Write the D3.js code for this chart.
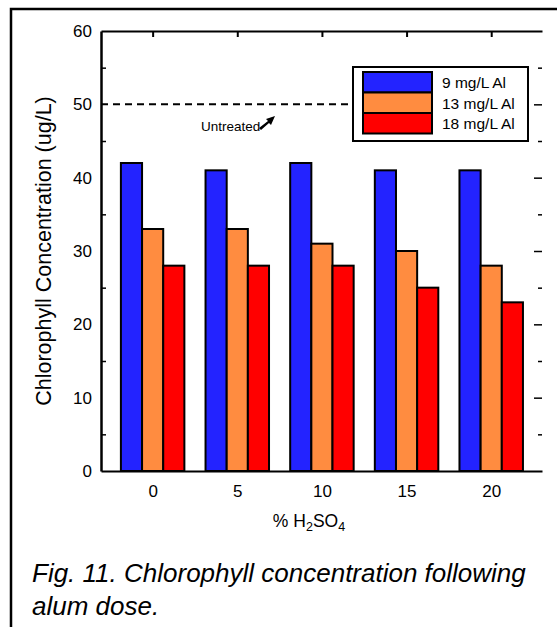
<!DOCTYPE html>
<html>
<head>
<meta charset="utf-8">
<script src="https://cdn.jsdelivr.net/npm/d3@7"></script>
<style>
  body { margin: 0; background: #fff; }
  svg text { font-family: Arial, "Liberation Sans", sans-serif; }
</style>
</head>
<body>
<svg id="chart" width="557" height="627"></svg>
<script>
const doses = [0, 5, 10, 15, 20];
const series = ["9 mg/L Al", "13 mg/L Al", "18 mg/L Al"];
const al9 = [42, 41, 42, 41, 41];
const al13 = [33, 33, 31, 30, 28];
const al18 = [28, 28, 28, 25, 23];
const untreated = 50;
const yTicks = [0, 10, 20, 30, 40, 50, 60];
const colors = ["#2323ff", "#ff8c40", "#ff0000"];

const svg = d3.select("#chart");
const plotL = 101, plotR = 542, plotT = 31, plotB = 471;

const x = d3.scaleLinear().domain([-3.05, 23]).range([plotL, plotR]);
const y = d3.scaleLinear().domain([0, 60]).range([plotB, plotT]);
const barW = x(1.25) - x(0);

// page frame
svg.append("path")
    .attr("d", `M11,627 V9 H557`)
    .attr("fill", "none")
    .attr("stroke", "#000")
    .attr("stroke-width", 2.5);

// bars
const allSeries = [al9, al13, al18];
allSeries.forEach((vals, s) => {
    svg.append("g")
        .selectAll("rect")
        .data(vals)
        .enter()
        .append("rect")
        .attr("x", (d, i) => x(doses[i]) + (s - 1.5) * barW)
        .attr("y", d => y(d))
        .attr("width", barW)
        .attr("height", d => y(0) - y(d))
        .attr("fill", colors[s])
        .attr("stroke", "#000")
        .attr("stroke-width", 2);
});

// untreated reference line
svg.append("line")
    .attr("x1", plotL).attr("x2", 353)
    .attr("y1", y(untreated)).attr("y2", y(untreated))
    .attr("stroke", "#000")
    .attr("stroke-width", 2)
    .attr("stroke-dasharray", "7,5");

svg.append("text")
    .attr("x", 201).attr("y", 131)
    .attr("font-size", 13.5)
    .text("Untreated");

// small arrow
svg.append("path")
    .attr("d", "M259,128 L268,121 L266,119 L275,116 L271,125 L269,123 L261,130 Z")
    .attr("fill", "#000");

// axes
const yAxisL = d3.axisLeft(y).tickValues(d3.range(0, 61, 5)).tickSizeInner(-5).tickSizeOuter(0).tickFormat("");
svg.append("g").attr("transform", `translate(${plotL},0)`).call(yAxisL)
    .call(g => g.select(".domain").attr("stroke-width", 2.5))
    .call(g => g.selectAll(".tick line").attr("stroke-width", 1.5)
        .attr("x2", d => d % 10 === 0 ? 0 : 5));

const yAxisR = d3.axisRight(y).tickValues(d3.range(5, 60, 5)).tickSizeInner(-4).tickSizeOuter(0).tickFormat("");
svg.append("g").attr("transform", `translate(${plotR},0)`).call(yAxisR)
    .call(g => g.select(".domain").remove())
    .call(g => g.selectAll(".tick line").attr("stroke-width", 1.5)
        .attr("x2", d => d % 10 === 0 ? -8 : -4));

svg.selectAll(".ylab")
    .data(yTicks)
    .enter()
    .append("text")
    .attr("class", "ylab")
    .attr("x", 92)
    .attr("y", d => y(d) + 6)
    .attr("text-anchor", "end")
    .attr("font-size", 17)
    .text(d => d);

const xTop = d3.axisBottom(x).tickValues(doses).tickSizeInner(6).tickSizeOuter(0).tickFormat("");
svg.append("g").attr("transform", `translate(0,${plotT})`).call(xTop)
    .call(g => g.select(".domain").attr("stroke-width", 2))
    .call(g => g.selectAll(".tick line").attr("stroke-width", 2));

const xBottom = d3.axisBottom(x).tickValues(doses).tickSize(0).tickPadding(14);
svg.append("g").attr("transform", `translate(0,${plotB})`).call(xBottom)
    .call(g => g.select(".domain").attr("stroke-width", 2))
    .call(g => g.selectAll("text").attr("font-size", 17).attr("fill", "#000")
        .attr("font-family", "Arial, 'Liberation Sans', sans-serif"));

// axis titles
svg.append("text")
    .attr("transform", `translate(51,${(plotT + plotB) / 2}) rotate(-90)`)
    .attr("text-anchor", "middle")
    .attr("font-size", 21.5)
    .text("Chlorophyll Concentration (ug/L)");

const xt = svg.append("text")
    .attr("x", 309).attr("y", 527)
    .attr("text-anchor", "middle")
    .attr("font-size", 17.5);
xt.append("tspan").text("% H");
xt.append("tspan").attr("font-size", 12.5).attr("dy", 4).text("2");
xt.append("tspan").attr("dy", -4).text("SO");
xt.append("tspan").attr("font-size", 12.5).attr("dy", 4).text("4");

// legend
const lg = svg.append("g");
lg.append("rect")
    .attr("x", 353).attr("y", 67).attr("width", 175).attr("height", 74)
    .attr("fill", "#fff").attr("stroke", "#000").attr("stroke-width", 2);
series.forEach((name, i) => {
    lg.append("rect")
        .attr("x", 363).attr("y", 72 + i * 20.5)
        .attr("width", 69).attr("height", 20.5)
        .attr("fill", colors[i]).attr("stroke", "#000").attr("stroke-width", 2);
    lg.append("text")
        .attr("x", 442).attr("y", 88 + i * 20.5)
        .attr("font-size", 15.5)
        .text(name);
});

// caption
const cap = svg.append("text")
    .attr("font-size", 26)
    .attr("font-style", "italic");
cap.append("tspan").attr("x", 32).attr("y", 582).text("Fig. 11. Chlorophyll concentration following");
cap.append("tspan").attr("x", 32).attr("y", 615).text("alum dose.");
</script>
</body>
</html>
